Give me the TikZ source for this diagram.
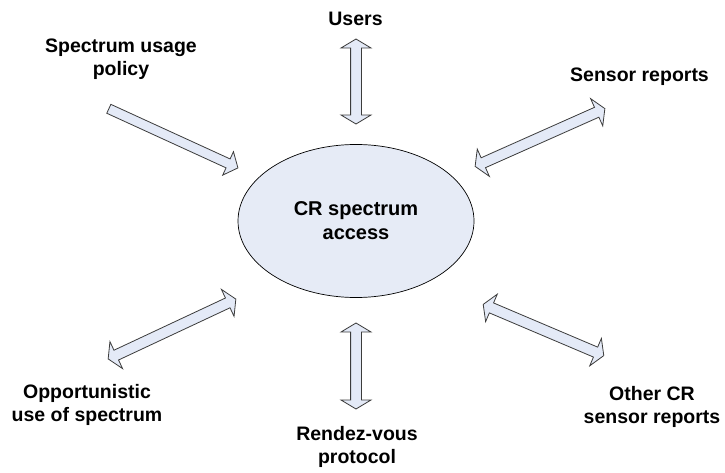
\documentclass[tikz,border=0pt]{standalone}
\usepackage{fontspec}
\setmainfont{Liberation Sans}
\usetikzlibrary{shapes.arrows,shapes.geometric}
\definecolor{arrfill}{HTML}{E4EAF7}
\definecolor{ellfill}{HTML}{E6EBF6}
\definecolor{arrline}{HTML}{3C3C3C}
\begin{document}
\begin{tikzpicture}[x=1pt,y=-1pt,
  lbl/.style={font=\bfseries\fontsize{19.5}{23}\selectfont, align=center, inner sep=0pt},
  dblarrow/.style={double arrow, draw=arrline, fill=arrfill, line width=0.8pt,
    inner sep=5pt, double arrow head extend=9.5pt, double arrow tip angle=118,
    minimum height=#1},
  sglarrow/.style={single arrow, draw=arrline, fill=arrfill, line width=0.8pt,
    inner sep=4.5pt, single arrow head extend=8pt, single arrow tip angle=100,
    minimum height=#1}]
\useasboundingbox[fill=white] (0,0) rectangle (725,473);

\node[ellipse, draw=black, line width=0.7pt, fill=ellfill, minimum width=236pt,
  minimum height=153pt, inner sep=0pt, align=center,
  font=\bfseries\fontsize{20}{24}\selectfont] (cr) at (356,221) {CR spectrum\\access};

\node[dblarrow=85pt, rotate=90] (aUsers) at (356,81.5) {};
\node[sglarrow=142pt, rotate=-24.6] (aPolicy) at (171.5,137.5) {};
\node[dblarrow=142pt, rotate=24.0] (aSensor) at (540,137.5) {};
\node[dblarrow=131pt, rotate=-23] (aOther) at (543.5,330) {};
\node[dblarrow=141pt, rotate=25.1] (aOpp) at (172,329) {};
\node[dblarrow=86pt, rotate=90] (aRdv) at (356,366) {};

\node[lbl] (users) at (355.5,19) {Users};
\node[lbl] (policy) at (121,59.5) {Spectrum usage\\policy};
\node[lbl] (sensor) at (639.5,76.6) {Sensor reports};
\node[lbl] (other) at (652,406.5) {Other CR\\sensor reports};
\node[lbl] (opp) at (87,405) {Opportunistic\\use of spectrum};
\node[lbl] (rdv) at (357,447) {Rendez-vous\\protocol};
\end{tikzpicture}
\end{document}
